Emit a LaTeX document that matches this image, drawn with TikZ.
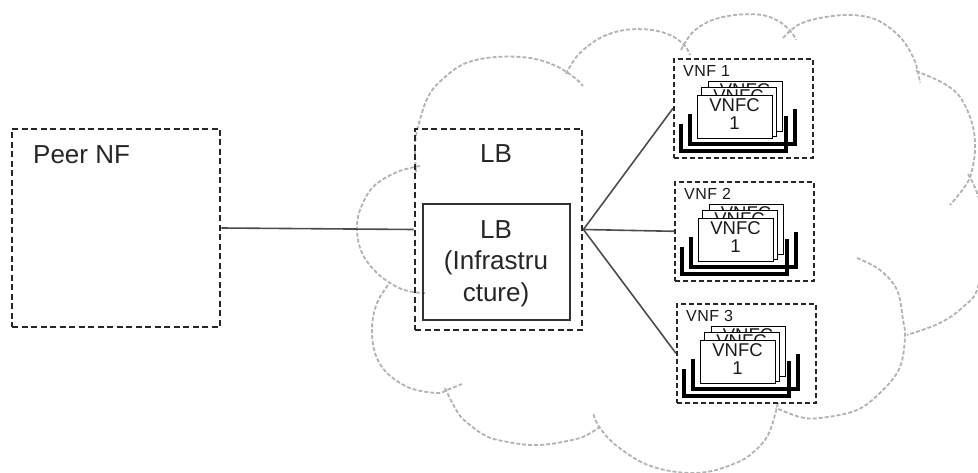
\documentclass[tikz,border=0pt]{standalone}
\usepackage{fontspec}
\setmainfont{Liberation Sans}
\newcommand\vnfunit[4]{%
\begin{scope}[shift={(#2,#3)}]
\node[vnfbox] (#1) at (0,0) {};
\node[vnflabel, anchor=base west] (#1lab) at (10,19) {VNF #4};
\draw[tray] (8,66) -- (8,93) -- (113,93) -- (113,58);
\draw[tray] (17,56) -- (17,86) -- (122,86) -- (122,51);
\node[card, minimum width=74, minimum height=50] (#1c3) at (35,23) {};
\node[cardtext] (#1t3) at (72,25.5) {VNFC\\1};
\node[card, minimum width=75, minimum height=49] (#1c2) at (28,29) {};
\node[cardtext] (#1t2) at (65.5,31.5) {VNFC\\1};
\node[card, minimum width=75, minimum height=43] (#1c1) at (24,37) {};
\node[cardtext] (#1t1) at (61.5,40) {VNFC\\1};
\end{scope}}
\begin{document}
\begin{tikzpicture}[x=1pt,y=-1pt,
  box/.style={draw=black!85, line width=2.8pt, dash pattern=on 6pt off 3.5pt, inner sep=0},
  vnfbox/.style={draw=black!85, line width=1.6pt, dash pattern=on 5pt off 3pt, inner sep=0, minimum width=139, minimum height=99, anchor=north west},
  card/.style={draw=black, line width=1.3pt, fill=white, inner sep=0, anchor=north west},
  tray/.style={draw=black, line width=3.5pt},
  conn/.style={draw=black!70, line width=1.6pt},
  cloudline/.style={draw=black!30, line width=1.8pt, dash pattern=on 4pt off 2pt},
  big/.style={font=\fontsize{26}{31.5}\selectfont, text=black!85, inner sep=0},
  vnflabel/.style={font=\fontsize{16}{18}\selectfont\addfontfeature{LetterSpace=3}, text=black!90, inner sep=0},
  cardtext/.style={font=\fontsize{18.5}{18}\selectfont, text=black!90, inner sep=0, align=center, anchor=north}
]
\useasboundingbox (0,0) rectangle (978,473);
% cloud
\begin{scope}
\clip (0,0) rectangle (978,473);
\draw[cloudline] plot[smooth, tension=0.6] coordinates {(416,172) (415,145) (419,123) (429,95) (445,77) (466,63) (496,57) (530,58) (556,66) (575,78) (583,86)};
\draw[cloudline] plot[smooth, tension=0.6] coordinates {(566,74) (578,55) (600,38) (625,30) (652,30) (672,36) (685,46) (690,55)};
\draw[cloudline] plot[smooth, tension=0.6] coordinates {(681,50) (692,33) (710,21) (735,15) (762,15) (780,22) (792,33) (796,40)};
\draw[cloudline] plot[smooth, tension=0.6] coordinates {(783,38) (798,25) (820,18) (850,15) (877,20) (900,37) (913,57) (918,72) (920,83)};
\draw[cloudline] plot[smooth, tension=0.6] coordinates {(916,71) (943,83) (960,97) (972,123) (975,150) (970,177) (960,193) (950,205)};
\draw[cloudline] plot[smooth, tension=0.6] coordinates {(968,174) (977,193) (985,230) (978,287) (963,307) (940,323) (907,335)};
\draw[cloudline] plot[smooth, tension=0.6] coordinates {(857,258) (880,270) (897,290) (903,320) (905,337) (900,367) (883,390) (857,410) (820,418) (800,417) (776,408)};
\draw[cloudline] plot[smooth, tension=0.6] coordinates {(778,403) (772,425) (765,440) (750,455) (736,463) (712,471) (690,473) (665,470) (643,463) (625,452) (610,440) (598,425) (593,413)};
\draw[cloudline] plot[smooth, tension=0.6] coordinates {(445,388) (458,413) (470,425) (488,437) (508,442) (530,445) (550,444) (572,440) (585,436) (600,427)};
\draw[cloudline] plot[smooth, tension=0.6] coordinates {(388,285) (377,303) (372,327) (375,353) (387,373) (410,388) (437,393) (447,390) (462,384)};
\draw[cloudline] plot[smooth, tension=0.6] coordinates {(420,166) (397,172) (373,187) (360,210) (357,230) (362,253) (377,273) (397,287) (413,292) (425,293)};
\end{scope}
% Peer NF
\node[box, minimum width=208, minimum height=198] (peer) at (116,228) {};
\node[big, anchor=base west] (peerlab) at (33,164) {Peer NF};
% LB
\node[box, minimum width=167, minimum height=201] (lbo) at (498.5,229.5) {};
\node[big, anchor=base] (lbolab) at (496,163) {LB};
\node[draw=black!80, line width=2.2pt, inner sep=0, minimum width=147, minimum height=116] (lbi) at (496.5,262) {};
\node[big, align=center, anchor=north] (lbilab) at (496,220.4) {LB\\(Infrastru\\cture)};
% VNFs
\vnfunit{v1}{673}{58}{1}
\vnfunit{v2}{674}{181}{2}
\vnfunit{v3}{676}{303}{3}
% connectors
\draw[conn] (peer.east) -- (lbo.west);
\draw[conn] (lbo.east) -- (v1.west);
\draw[conn] (lbo.east) -- (v2.west);
\draw[conn] (lbo.east) -- (v3.west);
\end{tikzpicture}
\end{document}
